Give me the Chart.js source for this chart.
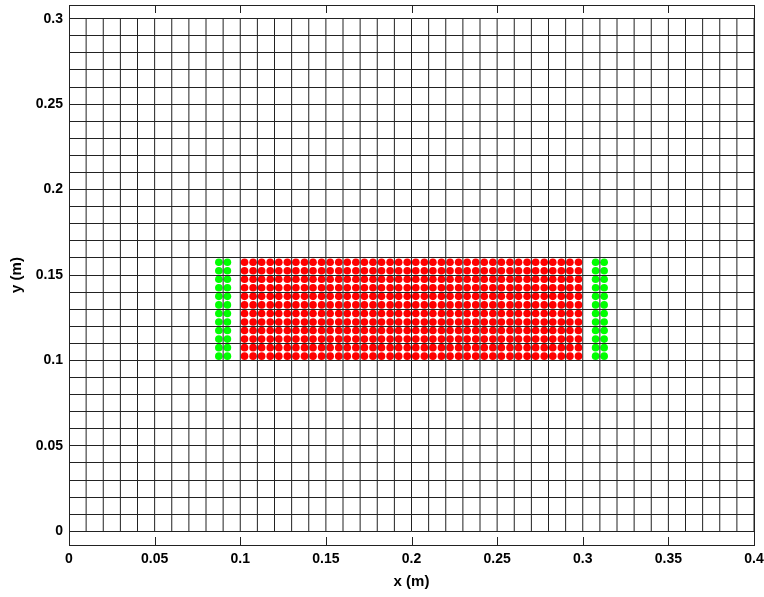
<!DOCTYPE html>
<html>
<head>
<meta charset="utf-8">
<script src="https://cdn.jsdelivr.net/npm/chart.js@4.4.1/dist/chart.umd.min.js"></script>
<style>
    body { margin: 0; background: #fff; }
    canvas { display: block; }
</style>
</head>
<body>
<canvas id="graficoMalha" width="764" height="597"></canvas>
<script>
// particulas vermelhas (colunas x) e linhas y
var colunasVermelhas = [0.1025, 0.1075, 0.1125, 0.1175, 0.1225, 0.1275, 0.1325, 0.1375, 0.1425, 0.1475,
    0.1525, 0.1575, 0.1625, 0.1675, 0.1725, 0.1775, 0.1825, 0.1875, 0.1925, 0.1975,
    0.2025, 0.2075, 0.2125, 0.2175, 0.2225, 0.2275, 0.2325, 0.2375, 0.2425, 0.2475,
    0.2525, 0.2575, 0.2625, 0.2675, 0.2725, 0.2775, 0.2825, 0.2875, 0.2925, 0.2975]
var colunasVerdes = [0.0875, 0.0925, 0.3075, 0.3125]
var linhasY = [0.1025, 0.1075, 0.1125, 0.1175, 0.1225, 0.1275, 0.1325, 0.1375, 0.1425, 0.1475, 0.1525, 0.1575]

// malha de fundo (linhas verticais de 0 a 0.3)
var malhaX = [0, 0.01, 0.02, 0.03, 0.04, 0.05, 0.06, 0.07, 0.08, 0.09, 0.1,
    0.11, 0.12, 0.13, 0.14, 0.15, 0.16, 0.17, 0.18, 0.19, 0.2,
    0.21, 0.22, 0.23, 0.24, 0.25, 0.26, 0.27, 0.28, 0.29, 0.3,
    0.31, 0.32, 0.33, 0.34, 0.35, 0.36, 0.37, 0.38, 0.39, 0.4]
var malhaYMin = 0
var malhaYMax = 0.3

var ticksX = [0, 0.05, 0.1, 0.15, 0.2, 0.25, 0.3, 0.35, 0.4]

function montarPontos(xs, ys) {
    var pts = []
    for (var i = 0; i < xs.length; i++) {
        for (var j = 0; j < ys.length; j++) {
            pts.push({ x: xs[i], y: ys[j] })
        }
    }
    return pts
}

function montarMalha() {
    var pts = []
    malhaX.forEach(function (x) {
        pts.push({ x: x, y: malhaYMin })
        pts.push({ x: x, y: malhaYMax })
        pts.push({ x: x, y: null })
    })
    return pts
}

function multiplo(v, passo) {
    var r = v / passo
    return Math.abs(r - Math.round(r)) < 1e-6
}

var corLinha = '#222'
var fonteTick = { family: 'Liberation Sans, Arial, sans-serif', size: 14, weight: 'bold' }
var fonteTitulo = { family: 'Liberation Sans, Arial, sans-serif', size: 15, weight: 'bold' }

// moldura e marcas internas do eixo x
var moldura = {
    id: 'moldura',
    afterDraw: function (chart) {
        var c = chart.ctx
        var a = chart.chartArea
        var sx = chart.scales.x
        c.save()
        c.strokeStyle = corLinha
        c.lineWidth = 1
        c.strokeRect(Math.round(a.left) + 0.5, Math.round(a.top) + 0.5,
            Math.round(a.right - a.left), Math.round(a.bottom - a.top))
        c.beginPath()
        ticksX.forEach(function (v) {
            var px = Math.round(sx.getPixelForValue(v)) + 0.5
            c.moveTo(px, a.top)
            c.lineTo(px, a.top + 8)
            c.moveTo(px, a.bottom)
            c.lineTo(px, a.bottom - 8)
        })
        c.stroke()
        c.restore()
    }
}

var ctx = document.getElementById('graficoMalha')

var grafico = new Chart(ctx, {
    type: 'scatter',
    data: {
        datasets: [{
            type: 'line',
            label: 'malha',
            data: montarMalha(),
            borderColor: corLinha,
            borderWidth: 1,
            pointRadius: 0,
            spanGaps: false,
            fill: false,
            order: 0
        }, {
            label: 'vermelho',
            data: montarPontos(colunasVermelhas, linhasY),
            backgroundColor: '#ff0000',
            borderWidth: 0,
            pointRadius: 3.8,
            order: 1
        }, {
            label: 'verde',
            data: montarPontos(colunasVerdes, linhasY),
            backgroundColor: '#00ff00',
            borderWidth: 0,
            pointRadius: 3.8,
            order: 1
        }]
    },
    options: {
        responsive: false,
        animation: false,
        layout: { padding: { top: 5, right: 10, left: 0, bottom: 0 } },
        plugins: {
            legend: { display: false },
            tooltip: { enabled: false }
        },
        scales: {
            x: {
                type: 'linear',
                min: 0,
                max: 0.4,
                afterFit: function (s) {
                    s.height = 52
                    s.paddingLeft = 0
                    s.paddingRight = 0
                },
                afterBuildTicks: function (s) {
                    s.ticks = ticksX.map(function (v) { return { value: v } })
                },
                grid: { drawOnChartArea: false, drawTicks: false },
                border: { display: false },
                ticks: {
                    color: '#000',
                    font: fonteTick,
                    padding: 6,
                    maxRotation: 0,
                    autoSkip: false,
                    callback: function (v) { return parseFloat(v.toFixed(2)).toString() }
                },
                title: {
                    display: true,
                    text: 'x (m)',
                    color: '#000',
                    font: fonteTitulo,
                    padding: { top: 0, bottom: 6 }
                }
            },
            y: {
                type: 'linear',
                min: -0.008,
                max: 0.308,
                afterFit: function (s) {
                    s.width = 69
                    s.paddingTop = 0
                    s.paddingBottom = 0
                },
                grid: { color: corLinha, lineWidth: 1, drawTicks: false, z: 1 },
                border: { display: false },
                ticks: {
                    stepSize: 0.01,
                    includeBounds: false,
                    autoSkip: false,
                    color: '#000',
                    font: fonteTick,
                    padding: 6,
                    callback: function (v) {
                        return multiplo(v, 0.05) ? parseFloat(v.toFixed(2)).toString() : ''
                    }
                },
                title: {
                    display: true,
                    text: 'y (m)',
                    color: '#000',
                    font: fonteTitulo,
                    padding: { top: 8, bottom: 0 }
                }
            }
        }
    },
    plugins: [moldura]
});
</script>
</body>
</html>
